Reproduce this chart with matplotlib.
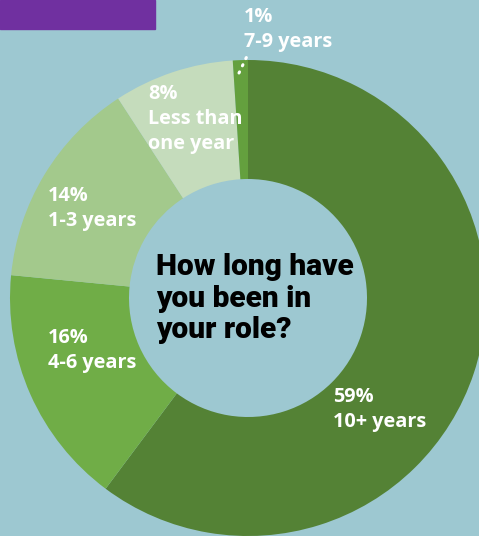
import matplotlib.pyplot as plt
from matplotlib.patches import Rectangle

# Quanto tempo no cargo atual (percentuais da pesquisa)
categorias = ["10+ years", "4-6 years", "1-3 years", "Less than\none year", "7-9 years"]
percentuais = [59, 16, 14, 8, 1]
cores = ["#548235", "#70ad47", "#a3c98c", "#c5dcbc", "#64a03e"]

W, H = 479, 536
fundo = "#9dc8d1"

fig = plt.figure(figsize=(W / 100, H / 100), dpi=100, facecolor=fundo)
ax = fig.add_axes([0, 0, 1, 1])

# Rosca: começa no topo e segue no sentido horário
ax.pie(
    percentuais,
    colors=cores,
    startangle=90,
    counterclock=False,
    center=(248, H - 298),
    radius=238,
    wedgeprops=dict(width=119, edgecolor="none"),
    frame=True,
)
ax.set_xlim(0, W)
ax.set_ylim(0, H)
ax.set_aspect("equal")
ax.axis("off")

# Faixa roxa do cabeçalho
ax.add_patch(Rectangle((0, H - 29), 155, 29, color="#7030a0", zorder=3))

# Rótulos (canto superior esquerdo em pixels)
posicoes = {
    "10+ years": (333, 387),
    "4-6 years": (48, 328),
    "1-3 years": (48, 186),
    "Less than\none year": (148, 84),
    "7-9 years": (244, 7),
}
for cat, pct in zip(categorias, percentuais):
    x, y = posicoes[cat]
    ax.text(x, H - y, f"{pct}%\n{cat}", color="white", fontsize=14.3,
            family="Open Sans", fontweight="bold", ha="left", va="top",
            linespacing=1.33, zorder=4)

# Linha pontilhada ligando a fatia de 1% ao rótulo
ax.plot([239, 248], [H - 73, H - 54], color="white", lw=2.2,
        linestyle=(0, (0.4, 2.2)), dash_capstyle="round", zorder=4)

# Pergunta no centro
ax.text(156, H - 253, "How long have\nyou been in\nyour role?", color="black",
        fontsize=21.5, family="Roboto", fontweight="heavy", ha="left", va="top",
        linespacing=1.17, zorder=4)

fig.savefig("out.png", dpi=100, facecolor=fundo)
